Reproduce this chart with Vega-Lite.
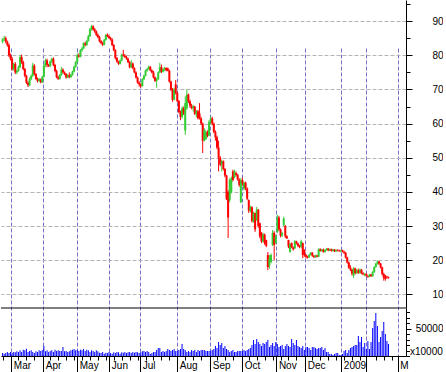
{
"$schema": "https://vega.github.io/schema/vega-lite/v6.json",
"padding": {"left": 0, "top": 0, "right": 0, "bottom": 0},
"background": "white",
"width": 405,
"height": 356,
"config": {"view": {"stroke": null}, "font": "Liberation Sans", "axis": {"labelFont": "Liberation Sans", "labelFontSize": 10, "labelColor": "#000000", "domainColor": "#000000", "tickColor": "#000000", "labelFlush": false, "labelOverlap": false, "labelBound": false, "title": null}},
"data": {"values": [
{"i":1,"o":84,"h":85,"l":83.5,"c":84.8,"v":5500},
{"i":2,"o":84.8,"h":85.7,"l":84.2,"c":85,"v":4200},
{"i":3,"o":85,"h":85.5,"l":83.5,"c":84,"v":5500},
{"i":4,"o":84,"h":84.3,"l":82.5,"c":83,"v":7300},
{"i":5,"o":83,"h":83.5,"l":79.5,"c":80,"v":5500},
{"i":6,"o":80,"h":80.5,"l":78.5,"c":79,"v":7300},
{"i":7,"o":79,"h":79.5,"l":75.5,"c":76,"v":6000},
{"i":8,"o":76,"h":77.8,"l":75.5,"c":77.5,"v":7300},
{"i":9,"o":77.5,"h":78,"l":74.5,"c":75,"v":6800},
{"i":10,"o":75,"h":75.8,"l":74.5,"c":75.5,"v":8600},
{"i":11,"o":75.5,"h":77,"l":75.2,"c":76.5,"v":7300},
{"i":12,"o":76.5,"h":80,"l":76.3,"c":79.5,"v":10400},
{"i":13,"o":79.5,"h":80.2,"l":77.5,"c":78,"v":7300},
{"i":14,"o":78,"h":78.4,"l":75.6,"c":76,"v":11500},
{"i":15,"o":76,"h":76.3,"l":73.6,"c":74,"v":10400},
{"i":16,"o":74,"h":74.3,"l":71.6,"c":72,"v":13400},
{"i":17,"o":72,"h":72.4,"l":70.7,"c":71.2,"v":7300},
{"i":18,"o":71.2,"h":73.5,"l":71,"c":73,"v":9200},
{"i":19,"o":73,"h":74.4,"l":72.7,"c":74,"v":10400},
{"i":20,"o":74,"h":77.8,"l":73.7,"c":77,"v":7300},
{"i":21,"o":77,"h":77.4,"l":74.1,"c":74.5,"v":5500},
{"i":22,"o":74.5,"h":74.8,"l":72.8,"c":73.1,"v":8600},
{"i":23,"o":73.1,"h":73.5,"l":72,"c":72.5,"v":7300},
{"i":24,"o":72.5,"h":73.4,"l":72.2,"c":73,"v":10400},
{"i":25,"o":73,"h":73.2,"l":71.8,"c":72.1,"v":9200},
{"i":26,"o":72.1,"h":74,"l":71.9,"c":73.7,"v":10400},
{"i":27,"o":73.7,"h":77.5,"l":73.5,"c":77,"v":18300},
{"i":28,"o":77,"h":79,"l":76.6,"c":78.5,"v":8600},
{"i":29,"o":78.5,"h":79,"l":76.5,"c":77.2,"v":10400},
{"i":30,"o":77.2,"h":77.5,"l":76.6,"c":76.8,"v":7300},
{"i":31,"o":76.8,"h":78.5,"l":76.6,"c":78.2,"v":9200},
{"i":32,"o":78.2,"h":79.3,"l":77.8,"c":79,"v":10400},
{"i":33,"o":79,"h":79.4,"l":76.8,"c":77.2,"v":7300},
{"i":34,"o":77.2,"h":77.5,"l":75,"c":75.4,"v":11500},
{"i":35,"o":75.4,"h":75.8,"l":73.3,"c":73.6,"v":9200},
{"i":36,"o":73.6,"h":74,"l":72.8,"c":73.1,"v":10400},
{"i":37,"o":73.1,"h":74.5,"l":72.9,"c":74.2,"v":9200},
{"i":38,"o":74.2,"h":76.6,"l":74,"c":75.8,"v":9200},
{"i":39,"o":75.8,"h":76.2,"l":74.6,"c":75,"v":16500},
{"i":40,"o":75,"h":75.3,"l":74.2,"c":74.5,"v":8600},
{"i":41,"o":74.5,"h":74.8,"l":73.2,"c":73.5,"v":9200},
{"i":42,"o":73.5,"h":74.5,"l":73.3,"c":74.2,"v":7300},
{"i":43,"o":74.2,"h":75,"l":73.3,"c":73.6,"v":8600},
{"i":44,"o":73.6,"h":74.6,"l":73.4,"c":74.3,"v":10400},
{"i":45,"o":74.3,"h":75.5,"l":74,"c":75.2,"v":11500},
{"i":46,"o":75.2,"h":77,"l":75,"c":76.6,"v":12800},
{"i":47,"o":76.6,"h":78.3,"l":76.4,"c":78,"v":10400},
{"i":48,"o":78,"h":80.5,"l":77.8,"c":80,"v":11500},
{"i":49,"o":80,"h":80.6,"l":79.3,"c":79.6,"v":9200},
{"i":50,"o":79.6,"h":81.8,"l":79.4,"c":81.5,"v":11500},
{"i":51,"o":81.5,"h":82.5,"l":81,"c":82,"v":10400},
{"i":52,"o":82,"h":83.8,"l":81.8,"c":83.5,"v":12800},
{"i":53,"o":83.5,"h":84,"l":82.6,"c":83,"v":9200},
{"i":54,"o":83,"h":84.5,"l":82.8,"c":84.2,"v":11500},
{"i":55,"o":84.2,"h":86,"l":84,"c":85.6,"v":10400},
{"i":56,"o":85.6,"h":88,"l":85.4,"c":87.6,"v":7300},
{"i":57,"o":87.6,"h":88.9,"l":87.2,"c":88.5,"v":10400},
{"i":58,"o":88.5,"h":88.8,"l":87.2,"c":87.6,"v":9200},
{"i":59,"o":87.6,"h":88,"l":86.6,"c":87,"v":7300},
{"i":60,"o":87,"h":87.3,"l":85.6,"c":86,"v":10400},
{"i":61,"o":86,"h":86.4,"l":85,"c":85.4,"v":8600},
{"i":62,"o":85.4,"h":85.7,"l":83.8,"c":84.1,"v":6000},
{"i":63,"o":84.1,"h":84.5,"l":83.2,"c":83.6,"v":5500},
{"i":64,"o":83.6,"h":84,"l":82.7,"c":83.1,"v":7300},
{"i":65,"o":83.1,"h":84.8,"l":82.9,"c":84.5,"v":4200},
{"i":66,"o":84.5,"h":86.2,"l":84.3,"c":86,"v":6000},
{"i":67,"o":86,"h":86.4,"l":85.3,"c":85.6,"v":5500},
{"i":68,"o":85.6,"h":86.1,"l":84.8,"c":85.1,"v":7300},
{"i":69,"o":85.1,"h":85.4,"l":84.3,"c":84.6,"v":5500},
{"i":70,"o":84.6,"h":85,"l":82.7,"c":83,"v":4200},
{"i":71,"o":83,"h":83.3,"l":81.2,"c":81.5,"v":6800},
{"i":72,"o":81.5,"h":81.8,"l":78.8,"c":79.2,"v":5500},
{"i":73,"o":79.2,"h":79.5,"l":77.8,"c":78.2,"v":7300},
{"i":74,"o":78.2,"h":78.4,"l":77.2,"c":77.5,"v":6800},
{"i":75,"o":77.5,"h":78.8,"l":77.3,"c":78.5,"v":4200},
{"i":76,"o":78.5,"h":80.5,"l":78.3,"c":80.2,"v":6800},
{"i":77,"o":80.2,"h":81.6,"l":79.6,"c":79.9,"v":6000},
{"i":78,"o":79.9,"h":80.4,"l":79.2,"c":79.5,"v":7300},
{"i":79,"o":79.5,"h":79.9,"l":78.7,"c":79,"v":5500},
{"i":80,"o":79,"h":79.3,"l":77.7,"c":78,"v":6800},
{"i":81,"o":78,"h":78.3,"l":76.2,"c":76.5,"v":7300},
{"i":82,"o":76.5,"h":78.6,"l":76.3,"c":77.6,"v":5500},
{"i":83,"o":77.6,"h":77.9,"l":75.9,"c":76.2,"v":7300},
{"i":84,"o":76.2,"h":76.5,"l":74.7,"c":75,"v":6000},
{"i":85,"o":75,"h":75.3,"l":73.2,"c":73.5,"v":7300},
{"i":86,"o":73.5,"h":73.8,"l":71.7,"c":72,"v":6800},
{"i":87,"o":72,"h":72.4,"l":70.8,"c":71.5,"v":5500},
{"i":88,"o":71.5,"h":71.8,"l":70.5,"c":71,"v":6800},
{"i":89,"o":71,"h":73.3,"l":70.8,"c":73,"v":8600},
{"i":90,"o":73,"h":74.3,"l":72.7,"c":74,"v":9200},
{"i":91,"o":74,"h":75.8,"l":73.8,"c":75.5,"v":7300},
{"i":92,"o":75.5,"h":76.3,"l":75.2,"c":76,"v":9200},
{"i":93,"o":76,"h":77,"l":75.8,"c":76.6,"v":7300},
{"i":94,"o":76.6,"h":76.9,"l":75.3,"c":75.6,"v":3700},
{"i":95,"o":75.6,"h":75.9,"l":74.7,"c":75,"v":5500},
{"i":96,"o":75,"h":75.4,"l":73.2,"c":73.5,"v":7300},
{"i":97,"o":73.5,"h":73.8,"l":72.2,"c":72.5,"v":7300},
{"i":98,"o":72.5,"h":73.4,"l":70.5,"c":73,"v":11000},
{"i":99,"o":73,"h":75.3,"l":72.8,"c":75,"v":14700},
{"i":100,"o":75,"h":77.8,"l":74.8,"c":76.5,"v":14700},
{"i":101,"o":76.5,"h":77.3,"l":74.8,"c":75.2,"v":7300},
{"i":102,"o":75.2,"h":76.2,"l":75,"c":75.9,"v":9200},
{"i":103,"o":75.9,"h":76.6,"l":75.4,"c":76.3,"v":7300},
{"i":104,"o":76.3,"h":76.5,"l":75.3,"c":75.6,"v":9200},
{"i":105,"o":76.2,"h":76.4,"l":75.3,"c":75.5,"v":12800},
{"i":106,"o":75.5,"h":75.8,"l":72,"c":72.3,"v":11000},
{"i":107,"o":72.3,"h":72.6,"l":69.5,"c":70,"v":9200},
{"i":108,"o":70,"h":70.4,"l":66.4,"c":67,"v":11000},
{"i":109,"o":67,"h":70.5,"l":66.8,"c":70,"v":12800},
{"i":110,"o":71.5,"h":72.8,"l":68.5,"c":69,"v":9200},
{"i":111,"o":69,"h":69.3,"l":66.2,"c":66.6,"v":9200},
{"i":112,"o":66.6,"h":66.9,"l":63,"c":63.4,"v":11000},
{"i":113,"o":63.4,"h":63.8,"l":61,"c":62,"v":12800},
{"i":114,"o":62,"h":65,"l":61.5,"c":64.5,"v":22000},
{"i":115,"o":64.5,"h":65,"l":62.5,"c":63,"v":12800},
{"i":116,"o":58,"h":68,"l":56.7,"c":66,"v":11000},
{"i":117,"o":64.5,"h":70,"l":64,"c":68.5,"v":7300},
{"i":118,"o":68.5,"h":68.8,"l":66,"c":66.5,"v":9200},
{"i":119,"o":66.5,"h":67,"l":64.6,"c":65.2,"v":7300},
{"i":120,"o":65.2,"h":65.8,"l":64.2,"c":64.5,"v":11000},
{"i":121,"o":64.5,"h":65.5,"l":63.5,"c":65,"v":9200},
{"i":122,"o":65,"h":65.2,"l":62.5,"c":62.8,"v":11000},
{"i":123,"o":62.8,"h":64,"l":61.8,"c":63.6,"v":7300},
{"i":124,"o":63.6,"h":64,"l":61.2,"c":61.6,"v":11000},
{"i":125,"o":63,"h":66,"l":61.2,"c":61.5,"v":9200},
{"i":126,"o":61.5,"h":62,"l":59.6,"c":60,"v":11000},
{"i":127,"o":60,"h":60.3,"l":51.4,"c":55,"v":11000},
{"i":128,"o":55,"h":58.7,"l":54.8,"c":58,"v":11000},
{"i":129,"o":55.5,"h":58.2,"l":55.2,"c":57.5,"v":9200},
{"i":130,"o":57.5,"h":58,"l":56,"c":56.5,"v":9200},
{"i":131,"o":56.5,"h":61,"l":56.3,"c":60.5,"v":9200},
{"i":132,"o":60.5,"h":62,"l":60,"c":61.5,"v":9200},
{"i":133,"o":61.5,"h":62,"l":59.5,"c":60,"v":11000},
{"i":134,"o":60,"h":60.3,"l":57.2,"c":57.6,"v":12800},
{"i":135,"o":57.6,"h":58,"l":55,"c":56,"v":18300},
{"i":136,"o":56,"h":56.5,"l":52.5,"c":53,"v":14700},
{"i":137,"o":53,"h":55,"l":46,"c":50,"v":25700},
{"i":138,"o":50,"h":50.5,"l":47.5,"c":48,"v":20200},
{"i":139,"o":48,"h":49.4,"l":46,"c":49,"v":23800},
{"i":140,"o":49,"h":49.2,"l":46.3,"c":46.7,"v":14700},
{"i":141,"o":46.7,"h":47,"l":44.3,"c":44.8,"v":18300},
{"i":142,"o":44.8,"h":45,"l":37.6,"c":38,"v":12800},
{"i":143,"o":40,"h":40.5,"l":26.5,"c":32.5,"v":11000},
{"i":144,"o":37.6,"h":44,"l":37,"c":43.5,"v":7300},
{"i":145,"o":40,"h":44.5,"l":39.5,"c":44,"v":9200},
{"i":146,"o":46,"h":46.5,"l":43,"c":43.5,"v":11000},
{"i":147,"o":44.3,"h":46.5,"l":44,"c":46,"v":7300},
{"i":148,"o":45.5,"h":46,"l":44.5,"c":45,"v":7300},
{"i":149,"o":45,"h":45.3,"l":43.3,"c":43.6,"v":9200},
{"i":150,"o":43.6,"h":44,"l":41.5,"c":42,"v":9200},
{"i":151,"o":37,"h":44,"l":36.7,"c":43.5,"v":9200},
{"i":152,"o":43.5,"h":44.2,"l":41.8,"c":42.5,"v":9200},
{"i":153,"o":41,"h":43,"l":40.5,"c":42.7,"v":11000},
{"i":154,"o":42.7,"h":43,"l":40.5,"c":41,"v":9200},
{"i":155,"o":41,"h":41.3,"l":37.6,"c":38,"v":11000},
{"i":156,"o":37.6,"h":37.8,"l":33.8,"c":34.5,"v":12800},
{"i":157,"o":34.5,"h":36,"l":34,"c":35.5,"v":14700},
{"i":158,"o":35.5,"h":35.8,"l":31,"c":31.5,"v":20200},
{"i":159,"o":31.2,"h":34.2,"l":31,"c":33.8,"v":29300},
{"i":160,"o":33.8,"h":34,"l":28.3,"c":29,"v":22000},
{"i":161,"o":31.8,"h":35.6,"l":31.5,"c":34.8,"v":31200},
{"i":162,"o":34.8,"h":35,"l":29.5,"c":30,"v":25700},
{"i":163,"o":30.8,"h":31,"l":26.4,"c":27,"v":22000},
{"i":164,"o":28,"h":28.2,"l":25,"c":25.5,"v":18300},
{"i":165,"o":25.5,"h":28,"l":25.2,"c":27.5,"v":23800},
{"i":166,"o":27.5,"h":27.8,"l":24.5,"c":25,"v":22000},
{"i":167,"o":25.9,"h":26,"l":23.8,"c":24.2,"v":25700},
{"i":168,"o":21.5,"h":22.4,"l":17.1,"c":18,"v":29300},
{"i":169,"o":18.5,"h":21.5,"l":17.5,"c":20.5,"v":16500},
{"i":170,"o":19.5,"h":22,"l":19.1,"c":21.5,"v":20200},
{"i":171,"o":24.4,"h":28.8,"l":24.2,"c":28,"v":23800},
{"i":172,"o":28,"h":28.5,"l":20,"c":24.5,"v":18300},
{"i":173,"o":25,"h":27.5,"l":24.8,"c":27,"v":25700},
{"i":174,"o":28.3,"h":33.3,"l":28,"c":32.5,"v":22000},
{"i":175,"o":32.5,"h":33,"l":28.5,"c":29,"v":16500},
{"i":176,"o":29,"h":29.3,"l":26.7,"c":27.2,"v":18300},
{"i":177,"o":27.2,"h":28.3,"l":26.8,"c":28,"v":20200},
{"i":178,"o":30.3,"h":32.7,"l":30,"c":32.2,"v":12800},
{"i":179,"o":30,"h":30.3,"l":26.5,"c":27,"v":18300},
{"i":180,"o":27,"h":27.3,"l":26.2,"c":26.4,"v":22000},
{"i":181,"o":25.9,"h":26,"l":23.5,"c":24,"v":18300},
{"i":182,"o":22.4,"h":25,"l":22.2,"c":24.8,"v":16500},
{"i":183,"o":25,"h":25.2,"l":23.5,"c":23.8,"v":31200},
{"i":184,"o":23.8,"h":24,"l":22.8,"c":23.2,"v":23800},
{"i":185,"o":23.5,"h":25.9,"l":23.3,"c":25.5,"v":20200},
{"i":186,"o":25.5,"h":25.7,"l":24.6,"c":24.9,"v":29300},
{"i":187,"o":24.9,"h":25.2,"l":23.8,"c":24.2,"v":18300},
{"i":188,"o":24.2,"h":24.5,"l":23.5,"c":23.9,"v":16500},
{"i":189,"o":24,"h":26,"l":23.5,"c":25.5,"v":14700},
{"i":190,"o":25,"h":25.2,"l":20.6,"c":21.5,"v":18300},
{"i":191,"o":23,"h":23.2,"l":21,"c":21.5,"v":11000},
{"i":192,"o":21.5,"h":21.8,"l":20.5,"c":21,"v":16500},
{"i":193,"o":21,"h":21.3,"l":20.5,"c":20.8,"v":16500},
{"i":194,"o":20.8,"h":21.8,"l":20.7,"c":21.6,"v":14700},
{"i":195,"o":21.6,"h":22.4,"l":21.4,"c":22.2,"v":11000},
{"i":196,"o":22.2,"h":22.4,"l":21,"c":21.3,"v":16500},
{"i":197,"o":21.3,"h":21.5,"l":20.6,"c":20.9,"v":16500},
{"i":198,"o":20.9,"h":21.6,"l":20.7,"c":21.4,"v":14700},
{"i":199,"o":21.4,"h":21.6,"l":20.8,"c":21,"v":12800},
{"i":200,"o":21,"h":23.5,"l":20.9,"c":23.2,"v":14700},
{"i":201,"o":23.2,"h":23.5,"l":22.5,"c":22.7,"v":14700},
{"i":202,"o":22.7,"h":23.3,"l":22.5,"c":23.1,"v":16500},
{"i":203,"o":23.1,"h":23.4,"l":22.2,"c":22.4,"v":11000},
{"i":204,"o":22.4,"h":23.2,"l":22.2,"c":23,"v":14700},
{"i":205,"o":23,"h":23.6,"l":22.8,"c":23.4,"v":7300},
{"i":206,"o":23.4,"h":23.6,"l":22.6,"c":22.9,"v":7300},
{"i":207,"o":22.9,"h":23.4,"l":22.7,"c":23.2,"v":3700},
{"i":208,"o":23.2,"h":23.4,"l":22.5,"c":22.7,"v":3700},
{"i":209,"o":22.7,"h":23.3,"l":22.5,"c":23.1,"v":1800},
{"i":210,"o":23.1,"h":23.3,"l":22.4,"c":22.6,"v":3700},
{"i":211,"o":22.6,"h":23.2,"l":22.4,"c":23,"v":5500},
{"i":212,"o":23,"h":23.2,"l":22.6,"c":22.8,"v":5500},
{"i":213,"o":22.8,"h":23.1,"l":22.5,"c":22.6,"v":1800},
{"i":214,"o":22.6,"h":23,"l":22.3,"c":22.9,"v":1800},
{"i":215,"o":22.9,"h":23.1,"l":22.3,"c":22.5,"v":3700},
{"i":216,"o":22.5,"h":22.8,"l":21.8,"c":22.2,"v":9200},
{"i":217,"o":22.2,"h":22.4,"l":20.5,"c":20.8,"v":11000},
{"i":218,"o":20.8,"h":21,"l":19,"c":19.3,"v":5500},
{"i":219,"o":19.3,"h":19.6,"l":17.5,"c":17.8,"v":11000},
{"i":220,"o":17.8,"h":18.5,"l":16.8,"c":17.2,"v":14700},
{"i":221,"o":17.2,"h":17.5,"l":15.5,"c":16,"v":16500},
{"i":222,"o":15.5,"h":18,"l":14.8,"c":17.6,"v":18300},
{"i":223,"o":17.6,"h":17.8,"l":15.8,"c":16.2,"v":20200},
{"i":224,"o":16.2,"h":17.4,"l":16,"c":17,"v":20200},
{"i":225,"o":17,"h":17.5,"l":16,"c":16.3,"v":36700},
{"i":226,"o":16.3,"h":17.6,"l":16.1,"c":17.2,"v":25700},
{"i":227,"o":17.2,"h":17.4,"l":15.9,"c":16.1,"v":34800},
{"i":228,"o":16.1,"h":16.5,"l":15.6,"c":15.8,"v":16500},
{"i":229,"o":15.8,"h":16.3,"l":15.3,"c":16,"v":23800},
{"i":230,"o":16,"h":16.2,"l":15.2,"c":15.4,"v":12800},
{"i":231,"o":15.4,"h":15.6,"l":14.8,"c":15.2,"v":27500},
{"i":232,"o":15.2,"h":16,"l":15,"c":15.8,"v":12800},
{"i":233,"o":15.8,"h":16,"l":15.1,"c":15.3,"v":25700},
{"i":234,"o":15.3,"h":16.8,"l":15.2,"c":16.5,"v":51300},
{"i":235,"o":16.5,"h":18.2,"l":16.3,"c":18,"v":64200},
{"i":236,"o":18,"h":19.2,"l":17.8,"c":19,"v":78800},
{"i":237,"o":19,"h":19.9,"l":18.7,"c":19.6,"v":55000},
{"i":238,"o":19.6,"h":19.8,"l":18.6,"c":19,"v":25700},
{"i":239,"o":19,"h":19.2,"l":17.6,"c":17.9,"v":34800},
{"i":240,"o":17.9,"h":18.1,"l":15.5,"c":16,"v":45800},
{"i":241,"o":16,"h":16.3,"l":14,"c":14.8,"v":62300},
{"i":242,"o":15.5,"h":15.7,"l":14,"c":14.5,"v":40300},
{"i":243,"o":15.2,"h":15.4,"l":14.6,"c":15,"v":27500},
{"i":244,"o":15,"h":15.2,"l":14.6,"c":14.8,"v":22000}
]},
"encoding": {
 "x": {"field": "i", "type": "quantitative", "scale": {"domain": [0, 255], "nice": false, "zero": false, "padding": 0},
  "axis": {"orient": "bottom",
   "values": [1, 6.5, 11, 16, 21, 26.6, 31, 36, 41, 46, 48.0, 51, 56, 61, 66, 68.2, 71, 76, 81, 86, 87.7, 91, 96, 101, 106, 111.0, 116, 121, 126, 131.8, 136, 141, 146, 151.9, 156, 161, 166, 171, 173.4, 176, 181, 186, 191.6, 196, 201, 206, 211, 214.3, 216, 221, 226, 230.0, 236, 241, 246, 249.8],
   "labelExpr": "['Mar','Apr','May','Jun','Jul','Aug','Sep','Oct','Nov','Dec','2009','','M'][indexof([6.5,26.6,48,68.2,87.7,111,131.8,151.9,173.4,191.6,214.3,230,249.8], datum.value)] || ''",
   "tickSize": {"condition": {"test": "indexof([6.5,26.6,48,68.2,87.7,111,131.8,151.9,173.4,191.6,214.3,230,249.8], datum.value) >= 0", "value": 16}, "value": 4},
   "grid": true, "gridColor": "#7570c4", "gridDash": [4, 2],
   "gridOpacity": {"condition": {"test": "indexof([6.5,26.6,48,68.2,87.7,111,131.8,151.9,173.4,191.6,214.3,230,249.8], datum.value) >= 0", "value": 1}, "value": 0},
   "labelAlign": "left", "labelOffset": 2, "labelBaseline": "alphabetic", "labelPadding": -4, "labelOverlap": false}}
},
"resolve": {"scale": {"y": "independent"}, "axis": {"y": "independent"}},
"layer": [
 {"mark": {"type": "rule", "strokeWidth": 1},
  "encoding": {
   "y": {"field": "l", "type": "quantitative", "scale": {"domain": [6, 96.2], "range": [308, 0], "nice": false, "zero": false},
    "axis": {"orient": "right", "values": [10, 20, 30, 40, 50, 60, 70, 80, 90], "tickSize": 6,
     "grid": true, "gridColor": "#b4b4b4", "gridDash": [4, 2],
     "labelAlign": "right", "labelPadding": 31, "labelOverlap": false}},
   "y2": {"field": "h"},
   "color": {"condition": {"test": "datum.c >= datum.o", "value": "#33cc33"}, "value": "#ff0000"}
  }},
 {"mark": {"type": "bar", "size": 2, "orient": "vertical"},
  "encoding": {
   "y": {"field": "o", "type": "quantitative", "scale": {"domain": [6, 96.2], "range": [308, 0], "nice": false, "zero": false},
    "axis": {"orient": "right", "values": [15, 25, 35, 45, 55, 65, 75, 85, 95], "tickSize": 4, "labels": false, "grid": false, "domain": false}},
   "y2": {"field": "c"},
   "color": {"condition": {"test": "datum.c >= datum.o", "value": "#33cc33"}, "value": "#ff0000"}
  }},
 {"mark": {"type": "bar", "size": 1, "orient": "vertical", "color": "#0000ff"},
  "encoding": {
   "y": {"field": "v", "type": "quantitative", "scale": {"domain": [0, 88000], "range": [356, 308], "nice": false, "zero": true},
    "axis": {"orient": "right", "values": [0, 10000, 20000, 30000, 40000, 50000, 60000, 70000, 80000],
     "labelExpr": "datum.value == 50000 ? '50000' : (datum.value == 0 ? 'x10000' : '')",
     "tickSize": {"condition": {"test": "datum.value == 50000", "value": 5}, "value": 3.5},
     "labelAlign": {"condition": {"test": "datum.value == 0", "value": "left"}, "value": "right"},
     "labelBaseline": {"condition": {"test": "datum.value == 0", "value": "bottom"}, "value": "middle"},
     "labelPadding": {"condition": {"test": "datum.value == 0", "value": 0}, "value": 32},
     "grid": false, "labelOverlap": false}}
  }},
 {"data": {"values": [{"p": 6, "a": 0, "b": 255}]},
  "mark": {"type": "rule", "color": "#000000", "strokeWidth": 1},
  "encoding": {
   "x": {"field": "a", "type": "quantitative"},
   "x2": {"field": "b"},
   "y": {"field": "p", "type": "quantitative", "scale": {"domain": [6, 96.2], "range": [308, 0], "nice": false, "zero": false}, "axis": null}
  }}
]
}
